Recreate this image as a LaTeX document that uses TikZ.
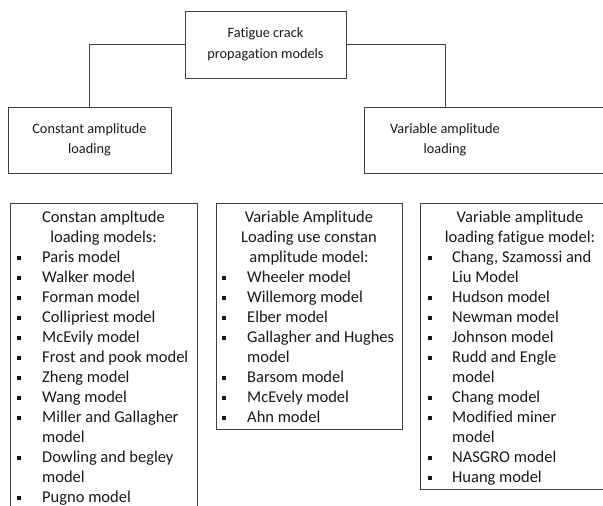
\documentclass[tikz,border=0pt]{standalone}
\usepackage{fontspec}
\setmainfont{Carlito}[Ligatures=NoCommon]
\usepackage{array}
\newcommand{\blt}{\rule[2.5pt]{4pt}{4pt}}

\begin{document}
\begin{tikzpicture}[x=1pt,y=-1pt,
        every node/.style={font=\fontsize{16.5}{20}\selectfont, text=black!90, inner sep=0pt},
        hbox/.style={draw=black!75, line width=0.8pt},
        toptxt/.style={font=\fontsize{14.3}{20.5}\selectfont, align=center},
        conn/.style={draw=black!75, line width=0.8pt}]
    \useasboundingbox (0,0) rectangle (603,506);
    \clip (0,0) rectangle (603,506);
    % top levels
    \node[hbox, toptxt, minimum width=161pt, minimum height=67pt] (fcp) at (265.5,44.5) {Fatigue crack\\propagation models};
    \node[hbox, toptxt, minimum width=163pt, minimum height=66pt] (constload) at (89.5,140) {Constant amplitude\\loading};
    \node[hbox, minimum width=260pt, minimum height=66pt, anchor=north west] (varbox) at (364,107) {};
    \node[toptxt] (varload) at (445,140) {Variable amplitude\\loading};
    \draw[conn] (fcp.west) -| (constload.north);
    \draw[conn] (fcp.east) -| (varload |- varbox.north);
    % constant amplitude list
    \node[hbox, minimum width=187pt, minimum height=330pt, anchor=north west] (constbox) at (10,203) {};
    \node[anchor=base] (consthead) at (103.5,222.5) {\begin{tabular}[t]{@{}c@{}}
        Constan ampltude\\ loading models:\end{tabular}};
    \node[anchor=base west] (constlist) at (17,262.5) {\begin{tabular}[t]{@{}p{25pt}@{}l@{}}
        \blt & Paris model\\
        \blt & Walker model\\
        \blt & Forman model\\
        \blt & Collipriest model\\
        \blt & McEvily model\\
        \blt & Frost and pook model\\
        \blt & Zheng model\\
        \blt & Wang model\\
        \blt & Miller and Gallagher\\
             & model\\
        \blt & Dowling and begley\\
             & model\\
        \blt & Pugno model
    \end{tabular}};
    % variable amplitude with constant models
    \node[hbox, minimum width=186pt, minimum height=226pt, anchor=north west] (usebox) at (216,203) {};
    \node[anchor=base] (usehead) at (309,222.5) {\begin{tabular}[t]{@{}c@{}}
        Variable Amplitude\\ Loading use constan\\ amplitude model:\end{tabular}};
    \node[anchor=base west] (uselist) at (222,282.5) {\begin{tabular}[t]{@{}p{25pt}@{}l@{}}
        \blt & Wheeler model\\
        \blt & Willemorg model\\
        \blt & Elber model\\
        \blt & Gallagher and Hughes\\
             & model\\
        \blt & Barsom model\\
        \blt & McEvely model\\
        \blt & Ahn model
    \end{tabular}};
    % variable amplitude fatigue models
    \node[hbox, minimum width=200pt, minimum height=286pt, anchor=north west] (fatbox) at (420,203) {};
    \node[anchor=base] (fathead) at (520,222.5) {\begin{tabular}[t]{@{}c@{}}
        Variable amplitude\\ loading fatigue model:\end{tabular}};
    \node[anchor=base west] (fatlist) at (428,262.5) {\begin{tabular}[t]{@{}p{24pt}@{}l@{}}
        \blt & Chang, Szamossi and\\
             & Liu Model\\
        \blt & Hudson model\\
        \blt & Newman model\\
        \blt & Johnson model\\
        \blt & Rudd and Engle\\
             & model\\
        \blt & Chang model\\
        \blt & Modified miner\\
             & model\\
        \blt & NASGRO model\\
        \blt & Huang model
    \end{tabular}};
\end{tikzpicture}
\end{document}
